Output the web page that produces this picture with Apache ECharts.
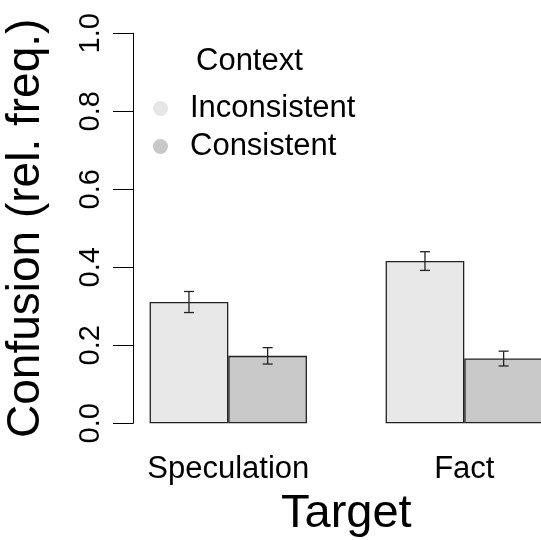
<!DOCTYPE html>
<html>
<head>
<meta charset="utf-8">
<script src="https://cdn.jsdelivr.net/npm/echarts@6/dist/echarts.min.js"></script>
<style>html,body{margin:0;padding:0;background:#fff}#c{width:541px;height:540px}</style>
</head>
<body>
<div id="c"></div>
<script>
const categories = ['Speculation', 'Fact'];
const seriesNames = ['Inconsistent', 'Consistent'];
const inconsistent = [0.311, 0.416];
const consistent = [0.173, 0.166];
const errInconsistent = [0.027, 0.024];
const errConsistent = [0.021, 0.019];
const yTicks = [0, 0.2, 0.4, 0.6, 0.8, 1.0];

const FONT = 'Liberation Sans, Arial, sans-serif';
const chart = echarts.init(document.getElementById('c'));

function errSeries(vals, errs, side) {
  return {
    type: 'custom',
    silent: true,
    z: 10,
    data: vals.map((v, i) => [i, v, errs[i]]),
    renderItem: function (params, api) {
      const idx = api.value(0), v = api.value(1), e = api.value(2);
      const band = api.size([1, 0])[0];
      const dx = side * band / 6;
      const top = api.coord([idx, v + e]);
      const bot = api.coord([idx, v - e]);
      const x = top[0] + dx;
      const hw = 5;
      const st = { stroke: '#222', lineWidth: 1.3 };
      return {
        type: 'group',
        children: [
          { type: 'line', shape: { x1: x, y1: top[1], x2: x, y2: bot[1] }, style: st },
          { type: 'line', shape: { x1: x - hw, y1: top[1], x2: x + hw, y2: top[1] }, style: st },
          { type: 'line', shape: { x1: x - hw, y1: bot[1], x2: x + hw, y2: bot[1] }, style: st }
        ]
      };
    }
  };
}

chart.setOption({
  animation: false,
  backgroundColor: '#fff',
  textStyle: { fontFamily: FONT },
  title: {
    text: 'Context', left: 196, top: 46, padding: 0,
    textStyle: { fontFamily: FONT, fontSize: 31, fontWeight: 'normal', color: '#000' }
  },
  legend: {
    orient: 'vertical', left: 153, top: 93, padding: 0,
    itemWidth: 15, itemHeight: 15, itemGap: 7, icon: 'circle',
    data: [
      { name: seriesNames[0], itemStyle: { color: '#e6e6e6', borderWidth: 0 } },
      { name: seriesNames[1], itemStyle: { color: '#c8c8c8', borderWidth: 0 } }
    ],
    textStyle: { fontFamily: FONT, fontSize: 31, color: '#000', padding: [0, 0, 0, 17] }
  },
  grid: { left: 110.3, right: -41.3, top: 33.3, bottom: 116.7, outerBoundsMode: 'none' },
  xAxis: {
    type: 'category', data: categories,
    axisLine: { show: false }, axisTick: { show: false },
    axisLabel: { fontFamily: FONT, fontSize: 31, color: '#000', margin: 31 },
    name: 'Target', nameLocation: 'middle', nameGap: 67,
    nameTextStyle: { fontFamily: FONT, fontSize: 47, color: '#000' }
  },
  yAxis: {
    type: 'value', min: yTicks[0], max: yTicks[yTicks.length - 1], interval: 0.2,
    offset: -22.7,
    splitLine: { show: false },
    axisLine: { show: true, lineStyle: { color: '#000', width: 1 } },
    axisTick: { show: true, length: 20, lineStyle: { color: '#000', width: 1 } },
    axisLabel: { rotate: 90, fontFamily: FONT, fontSize: 29, color: '#000', margin: 28,
      formatter: v => v.toFixed(1) },
    name: 'Confusion (rel. freq.)', nameLocation: 'middle', nameGap: 84, nameRotate: 90,
    nameTextStyle: { fontFamily: FONT, fontSize: 46, color: '#000' }
  },
  series: [
    { name: seriesNames[0], type: 'bar', data: inconsistent, barWidth: '33.333%', barGap: '0%',
      itemStyle: { color: '#e8e8e8', borderColor: '#222', borderWidth: 1.3 } },
    { name: seriesNames[1], type: 'bar', data: consistent, barWidth: '33.333%', barGap: '0%',
      itemStyle: { color: '#c9c9c9', borderColor: '#222', borderWidth: 1.3 } },
    errSeries(inconsistent, errInconsistent, -1),
    errSeries(consistent, errConsistent, 1)
  ]
});
</script>
</body>
</html>
